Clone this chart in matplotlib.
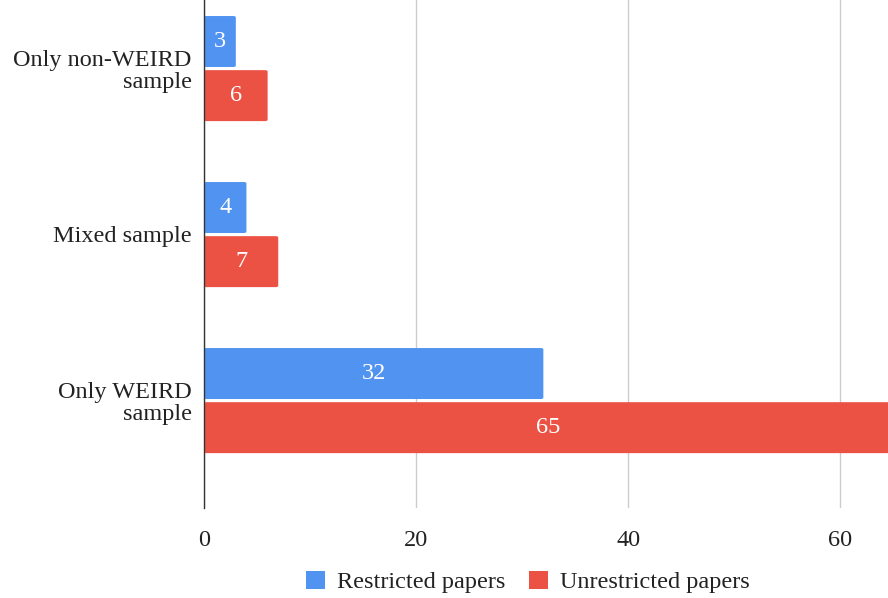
import matplotlib
matplotlib.use("Agg")
import matplotlib.pyplot as plt
from matplotlib.patches import FancyBboxPatch, Patch
import numpy as np

categories = ["Only non-WEIRD\nsample", "Mixed sample", "Only WEIRD\nsample"]
restricted = [3, 4, 32]
unrestricted = [6, 7, 65]
series_names = ["Restricted papers", "Unrestricted papers"]
colors = ["#5193F0", "#EB5244"]
xticks = [0, 20, 40, 60]

plt.rcParams['font.family'] = ['Liberation Serif', 'DejaVu Serif']
FS = 17.5

fig = plt.figure(figsize=(8.88, 5.98), dpi=100)
W, H = 888, 598
ax = fig.add_axes([204 / W, 1 - 508 / H, (888 - 204) / W, 508 / H])

y = np.arange(len(categories))
bh = 0.307
offsets = [-0.16, 0.166]
for vals, off, col in zip([restricted, unrestricted], offsets, colors):
    for yi, v in zip(y, vals):
        p = FancyBboxPatch((0, yi + off - bh / 2), v, bh,
                           boxstyle="round,pad=0,rounding_size=0.25",
                           mutation_aspect=0.03,
                           facecolor=col, edgecolor="none", zorder=3)
        ax.add_patch(p)
        ax.text(v / 2, yi + off, str(v), ha="center", va="center",
                color="white", fontsize=FS, zorder=4)

ax.set_xlim(0, 64.5)
ax.set_ylim(2.65, -0.41)
ax.set_yticks(y)
ax.set_yticklabels(categories, fontsize=FS, color="#222222", ha="right",
                   linespacing=1.1)
ax.set_xticks(xticks)
ax.set_xticklabels([str(t) for t in xticks], fontsize=FS, color="#222222")
ax.tick_params(axis="x", length=0, pad=16)
ax.tick_params(axis="y", length=0, pad=9)
ax.grid(axis="x", color="#cccccc", linewidth=1, zorder=0)
ax.set_axisbelow(True)
for s in ["top", "right", "bottom"]:
    ax.spines[s].set_visible(False)
ax.spines["left"].set_color("#333333")
ax.spines["left"].set_linewidth(1)
ax.spines["left"].set_zorder(5)

handles = [Patch(facecolor=c, edgecolor="none") for c in colors]
fig.legend(handles, series_names, loc="center", bbox_to_anchor=(528 / W, 1 - 582 / H),
           ncol=2, frameon=False, fontsize=FS, handlelength=0.75, handleheight=0.75,
           handletextpad=0.5, columnspacing=1.0, labelcolor="#222222")

fig.savefig("out.png", dpi=100)
